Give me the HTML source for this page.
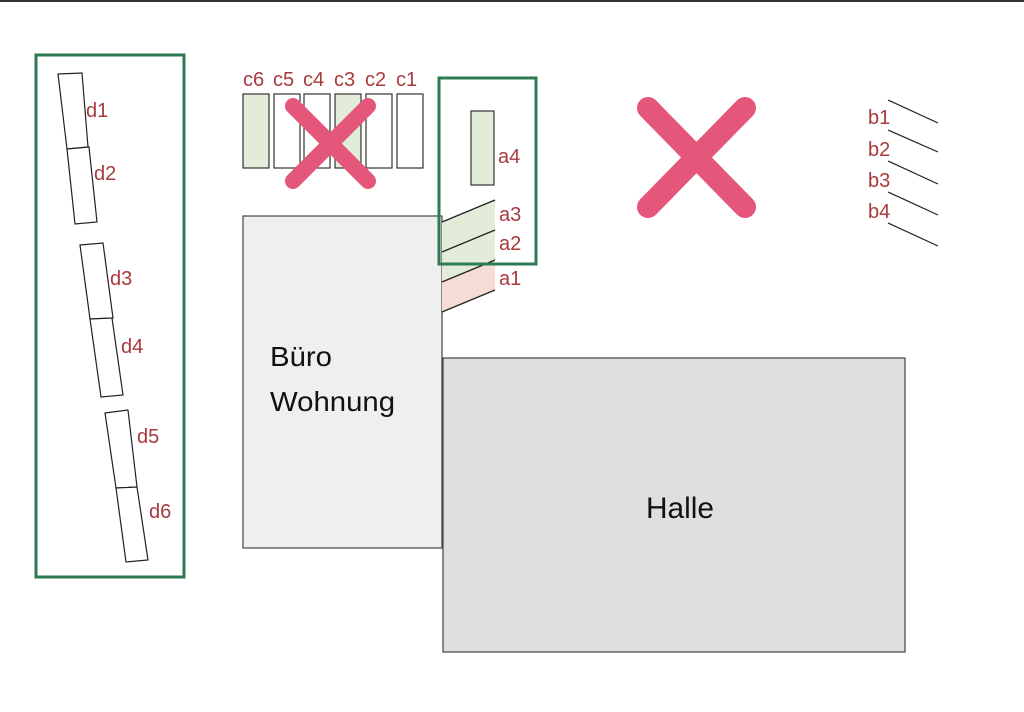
<!DOCTYPE html>
<html><head><meta charset="utf-8"><style>
html,body{margin:0;padding:0;background:#fff;}
svg{display:block;}
text{font-family:"Liberation Sans",sans-serif;}
.r{fill:#a8393d;font-size:20px;}
</style></head><body>
<svg width="1024" height="712" viewBox="0 0 1024 712" xmlns="http://www.w3.org/2000/svg">
<rect width="1024" height="712" fill="#fff"/>
<line x1="0" y1="1" x2="1024" y2="1" stroke="#333" stroke-width="2"/>
<rect x="36" y="55" width="148" height="522" fill="none" stroke="#2e7a55" stroke-width="3"/>
<g fill="#fff" stroke="#222" stroke-width="1.2">
<polygon points="58,74 82,73 88,147 67,149"/>
<polygon points="67,149 89,147 97,222 75,224"/>
<polygon points="80,245 103,243 113,318 90,319"/>
<polygon points="90,319 112,318 123,395 101,397"/>
<polygon points="105,413 128,410 137,487 116,488"/>
<polygon points="116,488 137,487 148,560 126,562"/>
</g>
<text class="r" x="86" y="117">d1</text>
<text class="r" x="94" y="180">d2</text>
<text class="r" x="110" y="285">d3</text>
<text class="r" x="121" y="353">d4</text>
<text class="r" x="137" y="443">d5</text>
<text class="r" x="149" y="518">d6</text>
<g stroke="#333" stroke-width="1.2">
<rect x="243" y="94" width="26" height="74" fill="#e3ecd9"/>
<rect x="274" y="94" width="26" height="74" fill="#fff"/>
<rect x="304" y="94" width="26" height="74" fill="#fff"/>
<rect x="335" y="94" width="26" height="74" fill="#e3ecd9"/>
<rect x="366" y="94" width="26" height="74" fill="#fff"/>
<rect x="397" y="94" width="26" height="74" fill="#fff"/>
</g>
<text class="r" x="243" y="86">c6</text>
<text class="r" x="273" y="86">c5</text>
<text class="r" x="303" y="86">c4</text>
<text class="r" x="334" y="86">c3</text>
<text class="r" x="365" y="86">c2</text>
<text class="r" x="396" y="86">c1</text>
<rect x="243" y="216" width="199" height="332" fill="#efefef" stroke="#444" stroke-width="1.2"/>
<rect x="443" y="358" width="462" height="294" fill="#e0dee0" stroke="#444" stroke-width="1.2"/>
<text x="270" y="366" font-size="28" fill="#111" textLength="62" lengthAdjust="spacingAndGlyphs">Büro</text>
<text x="270" y="411" font-size="28" fill="#111" textLength="125" lengthAdjust="spacingAndGlyphs">Wohnung</text>
<text x="646" y="518" font-size="30" fill="#111" textLength="68" lengthAdjust="spacingAndGlyphs">Halle</text>
<polygon points="442,222 495,200 495,260 442,282" fill="#e3ecd9"/>
<polygon points="442,282 495,260 495,290 442,312" fill="#f5ddd6"/>
<g stroke="#222" stroke-width="1.3">
<line x1="442" y1="222" x2="495" y2="200"/>
<line x1="442" y1="252" x2="495" y2="230"/>
<line x1="442" y1="282" x2="495" y2="260"/>
<line x1="442" y1="312" x2="495" y2="290"/>
</g>
<rect x="439" y="78" width="97" height="186" fill="none" stroke="#2e7a55" stroke-width="3"/>
<rect x="471" y="111" width="23" height="74" fill="#e3ecd9" stroke="#333" stroke-width="1.2"/>
<text class="r" x="498" y="163">a4</text>
<text class="r" x="499" y="221">a3</text>
<text class="r" x="499" y="250">a2</text>
<text class="r" x="499" y="285">a1</text>
<g stroke="#222" stroke-width="1.2">
<line x1="888" y1="100" x2="938" y2="123"/>
<line x1="888" y1="130" x2="938" y2="152"/>
<line x1="888" y1="161" x2="938" y2="184"/>
<line x1="888" y1="192" x2="938" y2="215"/>
<line x1="888" y1="223" x2="938" y2="246"/>
</g>
<text class="r" x="868" y="124">b1</text>
<text class="r" x="868" y="156">b2</text>
<text class="r" x="868" y="187">b3</text>
<text class="r" x="868" y="218">b4</text>
<g stroke="#e5577a" stroke-linecap="round">
<line x1="293" y1="106" x2="368" y2="181" stroke-width="16"/>
<line x1="368" y1="106" x2="293" y2="181" stroke-width="16"/>
<line x1="648" y1="108" x2="745" y2="207" stroke-width="22"/>
<line x1="745" y1="108" x2="648" y2="207" stroke-width="22"/>
</g>
</svg>
</body></html>
